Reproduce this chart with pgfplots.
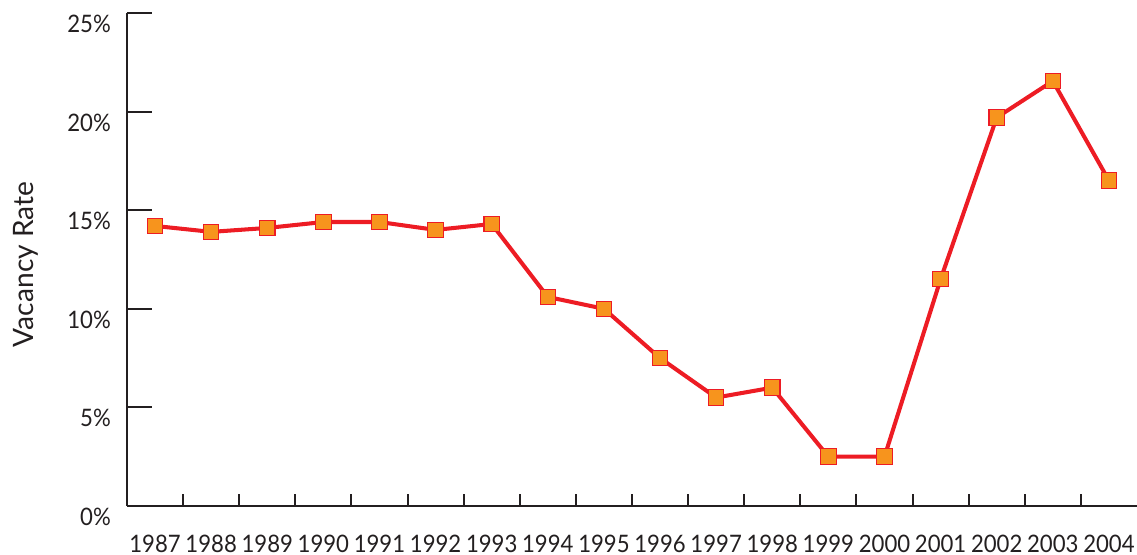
\documentclass[border=0pt]{standalone}
\usepackage{fontspec}
\setmainfont{Lato}[FakeStretch=0.92]
\newfontfamily\labelfont{Lato}
\usepackage{pgfplots}
\pgfplotsset{compat=1.18}

\definecolor{linered}{HTML}{ED1C24}
\definecolor{markorange}{HTML}{F7941D}
\definecolor{axisgray}{HTML}{231F20}

\begin{document}
\begin{tikzpicture}
\begin{axis}[
    name=ax,
    scale only axis,
    width=20.2cm,
    height=9.86cm,
    xmin=-0.5, xmax=17.5,
    ymin=0, ymax=25,
    axis x line*=bottom,
    axis y line*=left,
    axis line style={draw=axisgray, line width=1.1pt},
    xtick={0,...,17},
    xticklabels={1987,1988,1989,1990,1991,1992,1993,1994,1995,1996,1997,1998,1999,2000,2001,2002,2003,2004},
    major x tick style={draw=none},
    minor xtick={0.5,1.5,...,16.5},
    minor tick length=0.24cm,
    minor x tick style={draw=axisgray, line width=1.1pt},
    ytick={0,5,...,25},
    major tick length=0.5cm,
    major y tick style={draw=axisgray, line width=1.1pt},
    tick align=inside,
    yticklabel={\pgfmathprintnumber{\tick}\%},
    /pgf/number format/assume math mode=true,
    tick label style={font=\fontsize{13.7}{16}\selectfont, text=axisgray},
    xticklabel style={yshift=-0.45cm},
    yticklabel style={xshift=-0.2cm, yshift=-0.22cm},
    ylabel={Vacancy Rate},
    ylabel style={font=\labelfont\fontsize{16}{18}\selectfont, text=axisgray,
        at={(axis description cs:-0.1,0.49)}, anchor=center},
    clip=false,
]
\addplot[color=linered, line width=2.3pt, mark=square*,
    mark size=4.4pt,
    mark options={fill=markorange, draw=linered, line width=0.6pt, solid}]
coordinates {
(0,14.2) (1,13.9) (2,14.1) (3,14.4) (4,14.4) (5,14.0) (6,14.3)
(7,10.6) (8,10.0) (9,7.5) (10,5.5) (11,6.0) (12,2.5) (13,2.5)
(14,11.5) (15,19.7) (16,21.55) (17,16.5)
};
\end{axis}
\pgfresetboundingbox
\path[use as bounding box] ([shift={(-2.54cm,-0.98cm)}]ax.south west) rectangle ([shift={(0cm,0.26cm)}]ax.north east);
\end{tikzpicture}
\end{document}
